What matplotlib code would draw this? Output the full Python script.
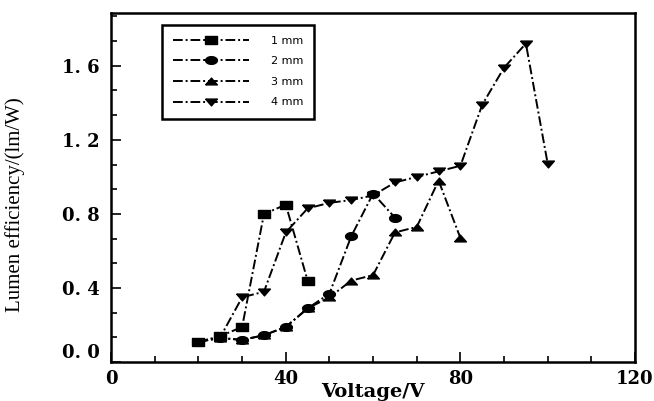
import numpy as np
import matplotlib
matplotlib.use('Agg')
import matplotlib.pyplot as plt
from matplotlib.ticker import MultipleLocator, FuncFormatter

# values
v_sq  = [20, 25, 30, 35, 40, 45]
le_sq = [0.11, 0.14, 0.19, 0.80, 0.85, 0.44]

v_ci  = [20, 25, 30, 35, 40, 45, 50, 55, 60, 65]
le_ci = [0.11, 0.13, 0.12, 0.145, 0.19, 0.29, 0.37, 0.68, 0.91, 0.78]

v_up  = [20, 25, 30, 35, 40, 45, 50, 55, 60, 65, 70, 75, 80]
le_up = [0.11, 0.13, 0.12, 0.145, 0.19, 0.29, 0.35, 0.44, 0.47, 0.70, 0.73, 0.98, 0.67]

v_dn  = [20, 25, 30, 35, 40, 45, 50, 55, 60, 65, 70, 75, 80, 85, 90, 95, 100]
le_dn = [0.11, 0.135, 0.35, 0.38, 0.70, 0.83, 0.86, 0.875, 0.90, 0.97, 1.00,
         1.03, 1.06, 1.39, 1.59, 1.72, 1.07]

labels = ['1 mm', '2 mm', '3 mm', '4 mm']

# wide (squashed) marker shapes like the scanned figure
t = np.linspace(0, 2*np.pi, 30)
m_sq = [(-1.3, -0.8), (1.3, -0.8), (1.3, 0.8), (-1.3, 0.8), (-1.3, -0.8)]
m_ci = list(zip(1.3*np.cos(t), 0.85*np.sin(t)))
m_up = [(-1.3, -0.75), (1.3, -0.75), (0, 0.75), (-1.3, -0.75)]
m_dn = [(-1.3, 0.75), (1.3, 0.75), (0, -0.75), (-1.3, 0.75)]

fig = plt.figure(figsize=(6.54, 4.01), dpi=100)
fig.patch.set_facecolor('white')
ax = fig.add_axes([0.170, 0.097, 0.801, 0.871])

ls = (0, (5, 1.5, 1, 1.5))
series = [(v_sq, le_sq, m_sq), (v_ci, le_ci, m_ci),
          (v_up, le_up, m_up), (v_dn, le_dn, m_dn)]
for (xv, yv, mk), lab in zip(series, labels):
    ax.plot(xv, yv, color='black', linestyle=ls, linewidth=1.4,
            marker=mk, markersize=8.5, markerfacecolor='black',
            markeredgecolor='black', label=lab)

ax.set_xlim(0, 120)
ax.set_ylim(0, 1.886)
ax.xaxis.set_major_locator(MultipleLocator(40))
ax.xaxis.set_minor_locator(MultipleLocator(10))
ax.yaxis.set_major_locator(MultipleLocator(0.4))
ax.yaxis.set_minor_locator(MultipleLocator(0.4/3))
ax.yaxis.set_major_formatter(FuncFormatter(lambda v, p: f'{v:.1f}'.replace('.', '. ')))

ax.tick_params(which='both', direction='in', top=False, right=False, width=1.2)
ax.tick_params(which='major', length=7)
ax.tick_params(which='minor', length=4)
ax.tick_params(axis='x', pad=6)
ax.tick_params(axis='y', pad=8)
for lbl in ax.get_xticklabels() + ax.get_yticklabels():
    lbl.set_fontfamily('DejaVu Serif')
    lbl.set_fontweight('bold')
    lbl.set_fontsize(13)

# the 0.0 label sits a bit higher in the original
ylocs = list(ax.yaxis.get_majorticklocs())
yticks = ax.yaxis.get_major_ticks(len(ylocs))
for tk, loc in zip(yticks, ylocs):
    if abs(loc) < 1e-9:
        tk.label1.set_verticalalignment('bottom')

for spine in ax.spines.values():
    spine.set_linewidth(1.8)
    spine.set_edgecolor('black')

ax.set_xlabel('Voltage/V', fontfamily='DejaVu Serif', fontweight='bold',
              fontsize=14, labelpad=-4)
ax.set_ylabel('Lumen efficiency/(lm/W)', fontfamily='Liberation Serif',
              fontsize=15)
ax.yaxis.set_label_coords(-0.165, 0.45)

leg = ax.legend(loc='upper left', bbox_to_anchor=(0.097, 0.966), borderaxespad=0,
                fontsize=8, handlelength=6.8, labelspacing=0.95, fancybox=False,
                framealpha=1, edgecolor='black', borderpad=1.0, handletextpad=2.0)
leg.get_frame().set_linewidth(1.8)

plt.savefig('out.png', dpi=100, facecolor='white')
print("Done.")
